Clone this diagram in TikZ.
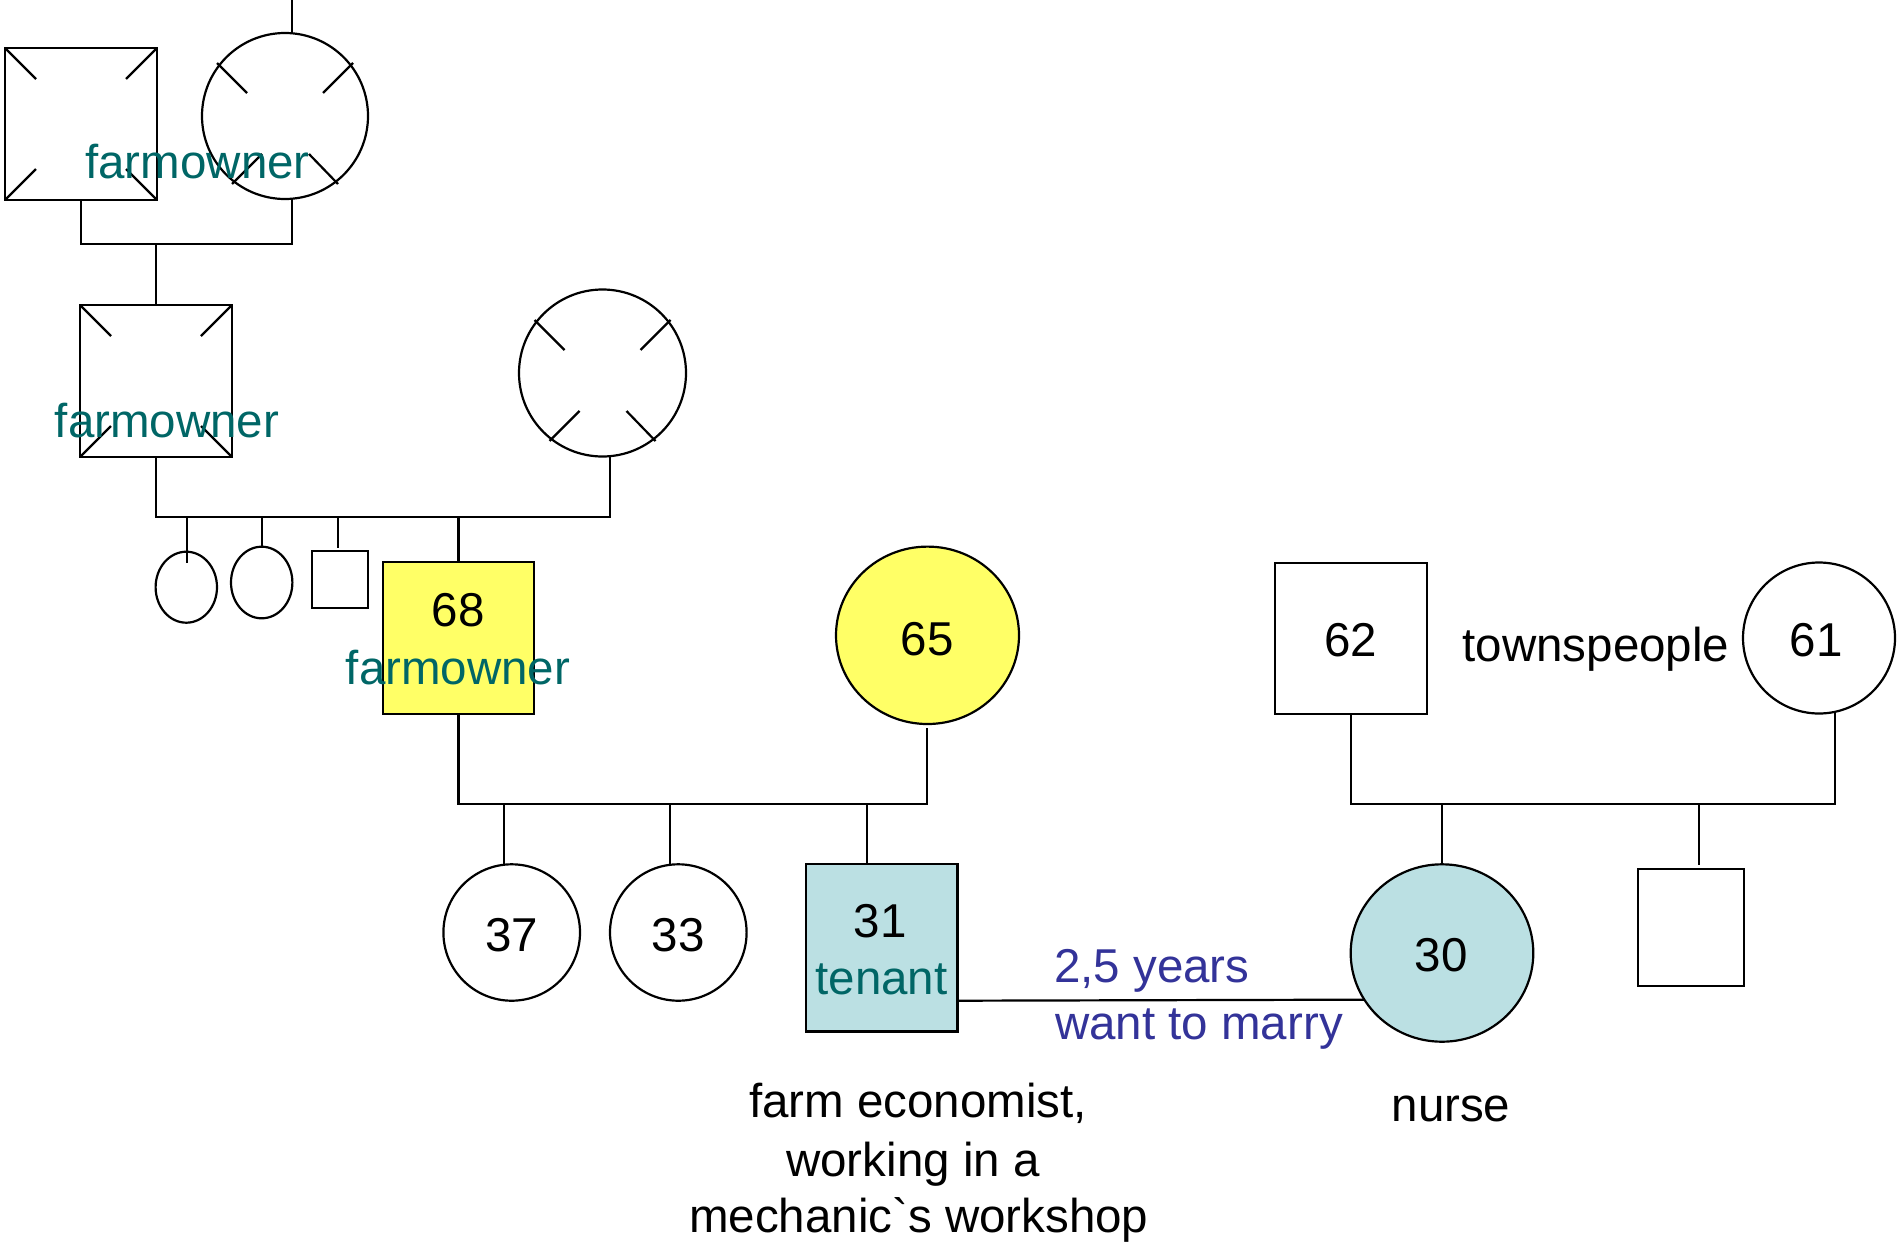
\documentclass[tikz,border=0pt]{standalone}
\usepackage{fontspec}
\newfontfamily\arialf{Liberation Sans}
\usetikzlibrary{shapes.geometric}
\definecolor{occteal}{RGB}{0,102,102}
\definecolor{notenavy}{RGB}{51,51,153}
\definecolor{idyellow}{RGB}{255,255,102}
\definecolor{idblue}{RGB}{187,224,227}
\newcommand\crossticks[1]{%
  \draw ([shift={(-68,-53)}]#1.center) -- ([shift={(-38,-23)}]#1.center);
  \draw ([shift={(68,-53)}]#1.center) -- ([shift={(38,-23)}]#1.center);
  \draw ([shift={(-53,68)}]#1.center) -- ([shift={(-23,38)}]#1.center);
  \draw ([shift={(53,68)}]#1.center) -- ([shift={(24,38)}]#1.center);}
\newcommand\squareticks[1]{%
  \draw (#1.north west) -- ++(31,31);
  \draw (#1.north east) -- ++(-31,31);
  \draw (#1.south west) -- ++(31,-31);
  \draw (#1.south east) -- ++(-31,-31);}
\begin{document}
\begin{tikzpicture}[x=1pt,y=-1pt,line width=2.2pt,
  male/.style={draw, rectangle, inner sep=0pt, outer sep=0pt},
  female/.style={draw, ellipse, inner sep=0pt, outer sep=0pt},
  lbl/.style={anchor=base, inner sep=0pt, font=\arialf\fontsize{47.5}{57}\selectfont},
  occ/.style={lbl, text=occteal},
  note/.style={lbl, text=notenavy, anchor=base west}]
\useasboundingbox (0,0) rectangle (1897,1242);

% ---------- generation 1 ----------
\node[male, minimum width=152pt, minimum height=152pt] (gf1) at (81,124) {};
\node[female, minimum width=166pt, minimum height=166pt] (gm1) at (285,116) {};
\squareticks{gf1}
\crossticks{gm1}
\coordinate (topend) at (292,0);
\coordinate (gm1t) at (292,33.3);
\coordinate (gm1b) at (292,198.7);
\coordinate (g1l) at (81,244);
\coordinate (g1r) at (292,244);
\coordinate (g1c) at (156,244);

% ---------- generation 2 ----------
\node[male, minimum width=152pt, minimum height=152pt] (gf2) at (156,381) {};
\node[female, minimum width=167pt, minimum height=167pt] (gm2) at (602.5,373) {};
\squareticks{gf2}
\crossticks{gm2}
\coordinate (g2l) at (156,517);
\coordinate (g2r) at (610,517);
\coordinate (gm2b) at (610,456.2);

% siblings of 68
\node[female, minimum width=61.4pt, minimum height=71pt] (s1) at (186.3,587.2) {};
\node[female, minimum width=61.4pt, minimum height=71.6pt] (s2) at (261.7,582.5) {};
\node[male, minimum width=56.6pt, minimum height=57.3pt] (s3) at (340,579.7) {};
\node[male, fill=idyellow, minimum width=151.6pt, minimum height=151.4pt] (f68) at (458.5,638) {};
\coordinate (d1t) at (186.7,517);
\coordinate (d1b) at (186.7,562.7);
\coordinate (d2t) at (261.7,517);
\coordinate (d3t) at (337.7,517);
\coordinate (d3b) at (337.7,547.7);
\coordinate (d4t) at (458.5,517);

% ---------- generation 3 ----------
\node[female, fill=idyellow, minimum width=183pt, minimum height=177.4pt] (m65) at (927.5,635.3) {};
\node[female, minimum width=136.6pt, minimum height=136.4pt] (c37) at (511.7,932.5) {};
\node[female, minimum width=136.6pt, minimum height=136.4pt] (c33) at (678.3,932.5) {};
\node[male, fill=idblue, minimum width=151.5pt, minimum height=167.2pt] (b31) at (881.75,947.9) {};
\coordinate (g3l) at (458.5,804);
\coordinate (g3r) at (927.3,804);
\coordinate (m65b) at (927.3,727.5);
\coordinate (e37t) at (504,804);
\coordinate (e37b) at (504,864.6);
\coordinate (e33t) at (670,804);
\coordinate (e33b) at (670,864.6);
\coordinate (e31t) at (867,804);
\coordinate (e31b) at (867,864.3);

% ---------- townspeople ----------
\node[male, minimum width=151.7pt, minimum height=151.3pt] (f62) at (1350.85,638.35) {};
\node[female, minimum width=152pt, minimum height=151pt] (m61) at (1819,638) {};
\node[female, fill=idblue, minimum width=182.6pt, minimum height=177.4pt] (c30) at (1442,953) {};
\node[male, minimum width=106.6pt, minimum height=116.7pt] (b2) at (1691,927.35) {};
\coordinate (g4l) at (1350.85,804);
\coordinate (g4r) at (1835,804);
\coordinate (m61b) at (1835,712.3);
\coordinate (h30t) at (1442,804);
\coordinate (h2t) at (1699,804);
\coordinate (h2b) at (1699,865);
\coordinate (mar31) at ([yshift=-52.8pt]b31.east);

% ---------- connectors ----------
\draw (topend) -- (gm1t);
\draw (gf1.south) -- (g1l) -- (g1r) -- (gm1b);
\draw (g1c) -- (gf2.north);
\draw (gf2.south) -- (g2l) -- (g2r) -- (gm2b);
\draw (d1t) -- (d1b);
\draw (d2t) -- (s2.north);
\draw (d3t) -- (d3b);
\draw (d4t) -- (f68.north);
\draw (f68.south) -- (g3l) -- (g3r) -- (m65b);
\draw (e37t) -- (e37b);
\draw (e33t) -- (e33b);
\draw (e31t) -- (e31b);
\draw (f62.south) -- (g4l) -- (g4r) -- (m61b);
\draw (h30t) -- (c30.north);
\draw (h2t) -- (h2b);
\draw (mar31) -- (c30.211.8);

% ---------- texts ----------
\node[occ] (t1) at (197.5,178.3) {farmowner};
\node[occ] (t2) at (167,437.3) {farmowner};
\node[lbl] (n68) at (458.3,626.7) {68};
\node[occ] (t3) at (458,684) {farmowner};
\node[lbl] (n65) at (927,655) {65};
\node[lbl] (n62) at (1350.7,656) {62};
\node[lbl] (ntown) at (1596,661) {townspeople};
\node[lbl] (n61) at (1816,656) {61};
\node[lbl] (n37) at (511.7,951) {37};
\node[lbl] (n33) at (678.3,951) {33};
\node[lbl] (n31) at (880,937) {31};
\node[occ] (t31) at (881.5,994) {tenant};
\node[lbl] (n30) at (1441,971) {30};
\node[note] (y25) at (1053,982.3) {2,5 years};
\node[note] (wtm) at (1054,1039) {want to marry};
\node[lbl] (nurse) at (1451,1121.7) {nurse};
\node[lbl] (fe1) at (918,1117.7) {farm economist,};
\node[lbl] (fe2) at (913,1176.7) {working in a};
\node[lbl] (fe3) at (918.8,1232.3) {mechanic`s workshop};
\end{tikzpicture}
\end{document}
